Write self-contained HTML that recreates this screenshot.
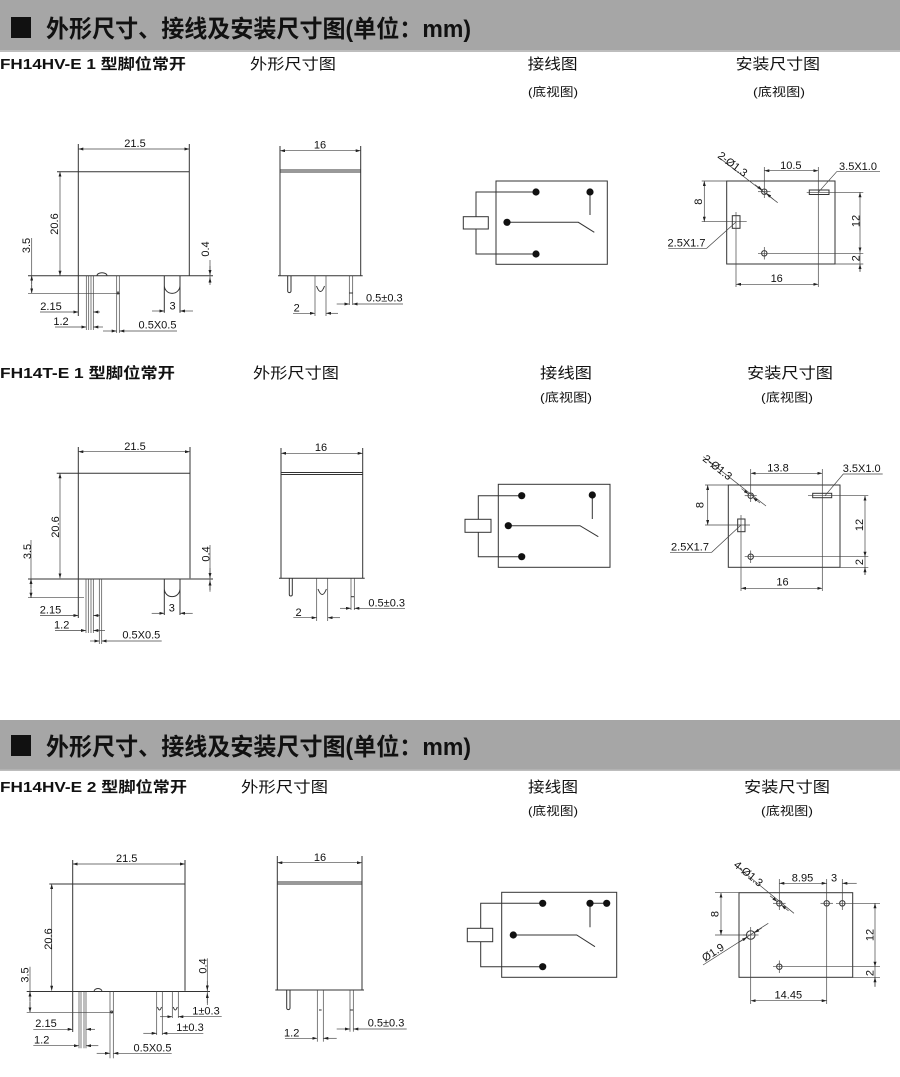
<!DOCTYPE html>
<html><head><meta charset="utf-8">
<style>
html,body{margin:0;padding:0;background:#fff;}
svg{display:block}
.s line,.s path,.s rect,.s polyline,.s circle{stroke:#333;stroke-width:1;fill:none}
.s .d{stroke:#444;stroke-width:.7}
text{font-family:"Liberation Sans",Arial,sans-serif;font-size:11px;fill:#111}
.cj{font-family:"Liberation Sans","Noto Sans CJK SC",sans-serif}
.h{font-size:24px;font-weight:bold}
.lb{font-size:15px;font-weight:bold}
.lc{font-size:15px}
.sm{font-size:12px}
.s .dot{fill:#111;stroke:none}
</style></head><body>
<svg width="900" height="1077" viewBox="0 0 900 1077" xmlns="http://www.w3.org/2000/svg">
<defs><marker id="a" viewBox="0 0 10 6" refX="10" refY="3" markerWidth="5" markerHeight="3" markerUnits="userSpaceOnUse" orient="auto-start-reverse"><path d="M0,0L10,3L0,6z" fill="#222"/></marker></defs>

<!-- ===== Header 1 ===== -->
<rect x="0" y="0" width="900" height="52" fill="#a6a6a6"/>
<rect x="0" y="50" width="900" height="2" fill="#bdbdbd"/>
<rect x="11" y="17" width="20" height="21" fill="#111"/>
<text class="cj h" x="46" y="37" style="font-size:24px" textLength="425" lengthAdjust="spacingAndGlyphs">外形尺寸、接线及安装尺寸图(单位：mm)</text>

<text class="cj lb" x="0" y="69" style="font-size:15px" textLength="186" lengthAdjust="spacingAndGlyphs">FH14HV-E 1 型脚位常开</text>
<text class="cj lc" x="250" y="69" style="font-size:15px" textLength="86" lengthAdjust="spacingAndGlyphs">外形尺寸图</text>
<text class="cj lc" x="527.6" y="69" style="font-size:15px" textLength="50" lengthAdjust="spacingAndGlyphs">接线图</text>
<text class="cj sm" x="528" y="96" style="font-size:12px" textLength="50" lengthAdjust="spacingAndGlyphs">(底视图)</text>
<text class="cj lc" x="735.6" y="69" style="font-size:15px" textLength="84.5" lengthAdjust="spacingAndGlyphs">安装尺寸图</text>
<text class="cj sm" x="753" y="96" style="font-size:12px" textLength="52" lengthAdjust="spacingAndGlyphs">(底视图)</text>

<!-- ===== S1A side view ===== -->
<g class="s">
<line x1="78.3" y1="144" x2="78.3" y2="316"/>
<line x1="189.3" y1="144" x2="189.3" y2="275.7"/>
<line class="d" x1="78.3" y1="149" x2="189.3" y2="149" marker-start="url(#a)" marker-end="url(#a)"/>
<line x1="57" y1="171.7" x2="189.3" y2="171.7"/>
<line class="d" x1="60" y1="171.7" x2="60" y2="275.7" marker-start="url(#a)" marker-end="url(#a)"/>
<line x1="28" y1="275.7" x2="213" y2="275.7"/>
<line class="d" x1="31.7" y1="238" x2="31.7" y2="293.3"/>
<line class="d" x1="31.7" y1="284" x2="31.7" y2="275.7" marker-end="url(#a)"/>
<line class="d" x1="31.7" y1="285" x2="31.7" y2="293.3" marker-end="url(#a)"/>
<line class="d" x1="28" y1="293.3" x2="120" y2="293.3"/>
<line class="d" x1="210" y1="260" x2="210" y2="283"/>
<line class="d" x1="210" y1="266" x2="210" y2="275" marker-end="url(#a)"/>
<line class="d" x1="210" y1="285" x2="210" y2="277.5" marker-end="url(#a)"/>
<line class="d" x1="86.3" y1="275.7" x2="86.3" y2="330"/>
<line class="d" x1="88.7" y1="275.7" x2="88.7" y2="330"/>
<line class="d" x1="91" y1="275.7" x2="91" y2="330"/>
<line class="d" x1="93.3" y1="275.7" x2="93.3" y2="330"/>
<line class="d" x1="116.7" y1="275.7" x2="116.7" y2="333"/>
<line class="d" x1="119.3" y1="275.7" x2="119.3" y2="333"/>
<circle cx="118" cy="293" r="1"/>
<path d="M164.3,275.7V312.7M180,275.7V312.7M164.3,285.5A7.85,7.85 0 0 0 180,285.5"/>
<path d="M97,275.7A5,3 0 0 1 107,275.7"/>
<line class="d" x1="40" y1="312" x2="78.3" y2="312" marker-end="url(#a)"/>
<line class="d" x1="100" y1="312" x2="93.3" y2="312" marker-end="url(#a)"/>
<line class="d" x1="55" y1="327" x2="86.3" y2="327" marker-end="url(#a)"/>
<line class="d" x1="103" y1="327" x2="93.3" y2="327" marker-end="url(#a)"/>
<line class="d" x1="103" y1="331" x2="116.7" y2="331" marker-end="url(#a)"/>
<line class="d" x1="177" y1="331" x2="119.3" y2="331" marker-end="url(#a)"/>
<line class="d" x1="152" y1="311" x2="164.3" y2="311" marker-end="url(#a)"/>
<line class="d" x1="193" y1="311" x2="180" y2="311" marker-end="url(#a)"/>
</g>
<text x="135" y="147" text-anchor="middle">21.5</text>
<text transform="translate(58,224) rotate(-90)" text-anchor="middle">20.6</text>
<text transform="translate(30,245.5) rotate(-90)" text-anchor="middle">3.5</text>
<text transform="translate(209,249) rotate(-90)" text-anchor="middle">0.4</text>
<text x="51" y="310" text-anchor="middle">2.15</text>
<text x="61" y="325" text-anchor="middle">1.2</text>
<text x="157.5" y="328.5" text-anchor="middle">0.5X0.5</text>
<text x="172.5" y="309.5" text-anchor="middle">3</text>

<!-- ===== S1B front view ===== -->
<g class="s">
<line x1="280" y1="146" x2="280" y2="275.7"/>
<line x1="360.7" y1="146" x2="360.7" y2="275.7"/>
<line class="d" x1="280" y1="150.7" x2="360.7" y2="150.7" marker-start="url(#a)" marker-end="url(#a)"/>
<line x1="280" y1="170" x2="360.7" y2="170"/>
<line x1="280" y1="172" x2="360.7" y2="172"/>
<line x1="278" y1="275.7" x2="362.7" y2="275.7"/>
<path d="M287.7,275.7V291A1.65,1.65 0 0 0 291,291V275.7"/>
<line class="d" x1="315" y1="275.7" x2="315" y2="316"/>
<line class="d" x1="326" y1="275.7" x2="326" y2="316"/>
<path d="M316.5,286Q320.5,297 324.5,286"/>
<line class="d" x1="349.3" y1="275.7" x2="349.3" y2="305"/>
<line class="d" x1="352.7" y1="275.7" x2="352.7" y2="305"/>
<line x1="349.3" y1="293" x2="352.7" y2="293"/>
<line class="d" x1="293" y1="313.3" x2="315" y2="313.3" marker-end="url(#a)"/>
<line class="d" x1="338" y1="313.3" x2="326" y2="313.3" marker-end="url(#a)"/>
<line class="d" x1="336.7" y1="304" x2="349.3" y2="304" marker-end="url(#a)"/>
<line class="d" x1="403" y1="304" x2="352.7" y2="304" marker-end="url(#a)"/>
</g>
<text x="320" y="148.5" text-anchor="middle">16</text>
<text x="296.7" y="311.5" text-anchor="middle">2</text>
<text x="384.3" y="301.5" text-anchor="middle">0.5±0.3</text>

<!-- ===== S1C wiring ===== -->
<g class="s">
<rect x="496" y="181" width="111.3" height="83.3"/>
<rect x="463.3" y="216.7" width="25" height="12.3"/>
<path d="M536,192H476V216.7M476,229V254H536"/>
<path d="M507,222.3H578.3L594.3,232.3"/>
<path d="M590,192V215"/>
<circle class="dot" cx="536" cy="192" r="3.6"/>
<circle class="dot" cx="536" cy="254" r="3.6"/>
<circle class="dot" cx="507" cy="222.3" r="3.6"/>
<circle class="dot" cx="590" cy="192" r="3.6"/>
</g>

<!-- ===== S1D mounting ===== -->
<g class="s">
<rect x="726.7" y="181" width="108.3" height="83"/>
<line class="d" x1="701.7" y1="181" x2="726.7" y2="181"/>
<line class="d" x1="704.3" y1="181" x2="704.3" y2="221.7" marker-start="url(#a)" marker-end="url(#a)"/>
<line class="d" x1="701.7" y1="221.7" x2="746.7" y2="221.7"/>
<rect x="732.3" y="215.7" width="7.7" height="12.6"/>
<line class="d" x1="736" y1="212" x2="736" y2="287"/>
<path class="d" d="M736,222L706.7,248.3H668.3"/>
<circle cx="764.3" cy="191.7" r="2.7"/>
<line class="d" x1="758" y1="191.7" x2="770.5" y2="191.7"/>
<line class="d" x1="764.3" y1="167" x2="764.3" y2="198"/>
<line class="d" x1="720" y1="158.3" x2="777.7" y2="202.7"/>
<line class="d" x1="755" y1="184.6" x2="762.2" y2="190" marker-end="url(#a)"/>
<line class="d" x1="773.5" y1="199.5" x2="766.4" y2="193.3" marker-end="url(#a)"/>
<line class="d" x1="764.3" y1="170.7" x2="818.3" y2="170.7" marker-start="url(#a)" marker-end="url(#a)"/>
<line class="d" x1="818.3" y1="167" x2="818.3" y2="287"/>
<rect x="809.3" y="190" width="19.7" height="4.5"/>
<line class="d" x1="806.7" y1="192.3" x2="863.3" y2="192.3"/>
<path class="d" d="M818.3,192.3L836.7,171.7H880"/>
<line class="d" x1="860" y1="192.3" x2="860" y2="252.3" marker-start="url(#a)" marker-end="url(#a)"/>
<line class="d" x1="860" y1="252.3" x2="860" y2="271.7"/>
<line class="d" x1="860" y1="271.7" x2="860" y2="264" marker-end="url(#a)"/>
<circle cx="764.3" cy="253.3" r="2.7"/>
<line class="d" x1="764.3" y1="247" x2="764.3" y2="259.5"/>
<line class="d" x1="758" y1="253.3" x2="863.3" y2="253.3"/>
<line class="d" x1="835" y1="264" x2="863.3" y2="264"/>
<line class="d" x1="736" y1="284.3" x2="818.3" y2="284.3" marker-start="url(#a)" marker-end="url(#a)"/>
</g>
<text transform="translate(702,201.7) rotate(-90)" text-anchor="middle">8</text>
<text x="686.5" y="246.5" text-anchor="middle">2.5X1.7</text>
<text transform="translate(717,157) rotate(37)">2-Ø1.3</text>
<text x="790.8" y="169" text-anchor="middle">10.5</text>
<text x="858" y="170" text-anchor="middle">3.5X1.0</text>
<text transform="translate(859.5,221) rotate(-90)" text-anchor="middle">12</text>
<text transform="translate(859.5,258.3) rotate(-90)" text-anchor="middle">2</text>
<text x="776.7" y="282" text-anchor="middle">16</text>

<!-- ===== Section 2 labels ===== -->
<text class="cj lb" x="0" y="378" style="font-size:15px" textLength="175" lengthAdjust="spacingAndGlyphs">FH14T-E 1 型脚位常开</text>
<text class="cj lc" x="253" y="378" style="font-size:15px" textLength="86" lengthAdjust="spacingAndGlyphs">外形尺寸图</text>
<text class="cj lc" x="540" y="378" style="font-size:15px" textLength="52" lengthAdjust="spacingAndGlyphs">接线图</text>
<text class="cj sm" x="540" y="401.5" style="font-size:12px" textLength="52" lengthAdjust="spacingAndGlyphs">(底视图)</text>
<text class="cj lc" x="747" y="378" style="font-size:15px" textLength="86" lengthAdjust="spacingAndGlyphs">安装尺寸图</text>
<text class="cj sm" x="761" y="401.5" style="font-size:12px" textLength="52" lengthAdjust="spacingAndGlyphs">(底视图)</text>

<!-- ===== S2A side view ===== -->
<g class="s">
<line x1="78.3" y1="447" x2="78.3" y2="618"/>
<line x1="190" y1="447" x2="190" y2="578.3"/>
<line class="d" x1="78.3" y1="451.7" x2="190" y2="451.7" marker-start="url(#a)" marker-end="url(#a)"/>
<line x1="56.7" y1="473.3" x2="190" y2="473.3"/>
<line class="d" x1="60" y1="473.3" x2="60" y2="578.3" marker-start="url(#a)" marker-end="url(#a)"/>
<line x1="28" y1="579" x2="213" y2="579"/>
<line class="d" x1="31" y1="540" x2="31" y2="597.7"/>
<line class="d" x1="31" y1="588" x2="31" y2="579" marker-end="url(#a)"/>
<line class="d" x1="31" y1="589" x2="31" y2="597.7" marker-end="url(#a)"/>
<line class="d" x1="28" y1="597.7" x2="84" y2="597.7"/>
<line class="d" x1="210" y1="545" x2="210" y2="591.7"/>
<line class="d" x1="210" y1="568" x2="210" y2="578" marker-end="url(#a)"/>
<line class="d" x1="210" y1="590" x2="210" y2="580.5" marker-end="url(#a)"/>
<line class="d" x1="86" y1="579" x2="86" y2="633"/>
<line class="d" x1="88.3" y1="579" x2="88.3" y2="633"/>
<line class="d" x1="91" y1="579" x2="91" y2="633"/>
<line class="d" x1="93.3" y1="579" x2="93.3" y2="633"/>
<line class="d" x1="99.3" y1="579" x2="99.3" y2="644"/>
<line class="d" x1="101.7" y1="579" x2="101.7" y2="644"/>
<path d="M164.3,579V615M180,579V615M164.3,588.8A7.85,7.85 0 0 0 180,588.8"/>
<line class="d" x1="40" y1="615.5" x2="78.3" y2="615.5" marker-end="url(#a)"/>
<line class="d" x1="100" y1="615.5" x2="93.3" y2="615.5" marker-end="url(#a)"/>
<line class="d" x1="55" y1="630.5" x2="86" y2="630.5" marker-end="url(#a)"/>
<line class="d" x1="105" y1="630.5" x2="93.3" y2="630.5" marker-end="url(#a)"/>
<line class="d" x1="90" y1="641" x2="99.3" y2="641" marker-end="url(#a)"/>
<line class="d" x1="161.7" y1="641" x2="101.7" y2="641" marker-end="url(#a)"/>
<line class="d" x1="151.7" y1="613.3" x2="164.3" y2="613.3" marker-end="url(#a)"/>
<line class="d" x1="192.7" y1="613.3" x2="180" y2="613.3" marker-end="url(#a)"/>
</g>
<text x="135" y="450" text-anchor="middle">21.5</text>
<text transform="translate(59,527) rotate(-90)" text-anchor="middle">20.6</text>
<text transform="translate(31,551.5) rotate(-90)" text-anchor="middle">3.5</text>
<text transform="translate(209.5,554) rotate(-90)" text-anchor="middle">0.4</text>
<text x="50.5" y="613.5" text-anchor="middle">2.15</text>
<text x="61.7" y="628.5" text-anchor="middle">1.2</text>
<text x="141.3" y="638.5" text-anchor="middle">0.5X0.5</text>
<text x="171.8" y="611.5" text-anchor="middle">3</text>

<!-- ===== S2B front view ===== -->
<g class="s">
<line x1="281" y1="448" x2="281" y2="578.3"/>
<line x1="362.7" y1="448" x2="362.7" y2="578.3"/>
<line class="d" x1="281" y1="453.3" x2="362.7" y2="453.3" marker-start="url(#a)" marker-end="url(#a)"/>
<line x1="281" y1="472.5" x2="362.7" y2="472.5"/>
<line x1="281" y1="474.5" x2="362.7" y2="474.5"/>
<line x1="279" y1="578.3" x2="364.7" y2="578.3"/>
<path d="M289.3,578.3V594.5A1.5,1.5 0 0 0 292.3,594.5V578.3"/>
<line class="d" x1="316.7" y1="578.3" x2="316.7" y2="621"/>
<line class="d" x1="327.7" y1="578.3" x2="327.7" y2="621"/>
<path d="M318,589Q322.2,600 326.4,589"/>
<line class="d" x1="351" y1="578.3" x2="351" y2="610"/>
<line class="d" x1="354.3" y1="578.3" x2="354.3" y2="610"/>
<line x1="351" y1="596.7" x2="354.3" y2="596.7"/>
<line class="d" x1="293.3" y1="617.7" x2="316.7" y2="617.7" marker-end="url(#a)"/>
<line class="d" x1="340" y1="617.7" x2="327.7" y2="617.7" marker-end="url(#a)"/>
<line class="d" x1="340" y1="608.3" x2="351" y2="608.3" marker-end="url(#a)"/>
<line class="d" x1="405" y1="608.3" x2="354.3" y2="608.3" marker-end="url(#a)"/>
</g>
<text x="321" y="451" text-anchor="middle">16</text>
<text x="298.5" y="616" text-anchor="middle">2</text>
<text x="386.7" y="606.5" text-anchor="middle">0.5±0.3</text>

<!-- ===== S2C wiring ===== -->
<g class="s">
<rect x="498.3" y="484.3" width="111.7" height="83"/>
<rect x="465" y="519.3" width="26" height="13"/>
<path d="M521.7,495.7H478.3V519.3M478.3,532.3V556.7H521.7"/>
<path d="M508.3,525.7H580L598.3,536.7"/>
<path d="M592.3,495V519"/>
<circle class="dot" cx="521.7" cy="495.7" r="3.6"/>
<circle class="dot" cx="521.7" cy="556.7" r="3.6"/>
<circle class="dot" cx="508.3" cy="525.7" r="3.6"/>
<circle class="dot" cx="592.3" cy="495" r="3.6"/>
</g>

<!-- ===== S2D mounting ===== -->
<g class="s">
<rect x="728.3" y="485" width="111.7" height="82.3"/>
<line class="d" x1="705" y1="485" x2="728.3" y2="485"/>
<line class="d" x1="707.7" y1="485" x2="707.7" y2="525" marker-start="url(#a)" marker-end="url(#a)"/>
<line class="d" x1="705" y1="525" x2="750" y2="525"/>
<rect x="737.7" y="519" width="7.3" height="12.7"/>
<line class="d" x1="741" y1="515" x2="741" y2="591"/>
<path class="d" d="M741,525L711.7,552.3H670"/>
<circle cx="750.7" cy="495.7" r="2.7"/>
<line class="d" x1="744.7" y1="495.7" x2="756.7" y2="495.7"/>
<line class="d" x1="750.7" y1="469" x2="750.7" y2="502"/>
<line class="d" x1="703.3" y1="456.7" x2="766" y2="506"/>
<line class="d" x1="741.5" y1="488.6" x2="748.6" y2="494" marker-end="url(#a)"/>
<line class="d" x1="760" y1="503" x2="752.8" y2="497.4" marker-end="url(#a)"/>
<line class="d" x1="750.7" y1="473.3" x2="822.3" y2="473.3" marker-start="url(#a)" marker-end="url(#a)"/>
<line class="d" x1="822.3" y1="469" x2="822.3" y2="591"/>
<rect x="812.7" y="493.3" width="19" height="4.4"/>
<line class="d" x1="808" y1="495.7" x2="868.3" y2="495.7"/>
<path class="d" d="M825,495.7L843.3,474H882.7"/>
<line class="d" x1="865" y1="495.7" x2="865" y2="556.7" marker-start="url(#a)" marker-end="url(#a)"/>
<line class="d" x1="865" y1="556.7" x2="865" y2="575"/>
<line class="d" x1="865" y1="575" x2="865" y2="567.3" marker-end="url(#a)"/>
<circle cx="750.7" cy="556.7" r="2.7"/>
<line class="d" x1="750.7" y1="550.5" x2="750.7" y2="563"/>
<line class="d" x1="744.7" y1="556.7" x2="868.3" y2="556.7"/>
<line class="d" x1="840" y1="567.3" x2="868.3" y2="567.3"/>
<line class="d" x1="741" y1="588.3" x2="822.3" y2="588.3" marker-start="url(#a)" marker-end="url(#a)"/>
</g>
<text transform="translate(703.5,505) rotate(-90)" text-anchor="middle">8</text>
<text x="690" y="550.5" text-anchor="middle">2.5X1.7</text>
<text transform="translate(702,460) rotate(38)">2-Ø1.3</text>
<text x="778" y="471.5" text-anchor="middle">13.8</text>
<text x="861.7" y="472" text-anchor="middle">3.5X1.0</text>
<text transform="translate(863,525) rotate(-90)" text-anchor="middle">12</text>
<text transform="translate(863,562) rotate(-90)" text-anchor="middle">2</text>
<text x="782.5" y="585.5" text-anchor="middle">16</text>

<!-- ===== Header 2 ===== -->
<rect x="0" y="720" width="900" height="51" fill="#a6a6a6"/>
<rect x="0" y="769.5" width="900" height="1.5" fill="#bdbdbd"/>
<rect x="11" y="735" width="20" height="21" fill="#111"/>
<text class="cj h" x="46" y="755" style="font-size:24px" textLength="425" lengthAdjust="spacingAndGlyphs">外形尺寸、接线及安装尺寸图(单位：mm)</text>

<text class="cj lb" x="0" y="792" style="font-size:15px" textLength="187" lengthAdjust="spacingAndGlyphs">FH14HV-E 2 型脚位常开</text>
<text class="cj lc" x="241" y="792" style="font-size:15px" textLength="87" lengthAdjust="spacingAndGlyphs">外形尺寸图</text>
<text class="cj lc" x="528" y="792" style="font-size:15px" textLength="50" lengthAdjust="spacingAndGlyphs">接线图</text>
<text class="cj sm" x="528" y="815" style="font-size:12px" textLength="50" lengthAdjust="spacingAndGlyphs">(底视图)</text>
<text class="cj lc" x="744" y="792" style="font-size:15px" textLength="86" lengthAdjust="spacingAndGlyphs">安装尺寸图</text>
<text class="cj sm" x="761" y="815" style="font-size:12px" textLength="52" lengthAdjust="spacingAndGlyphs">(底视图)</text>

<!-- ===== S3A side view ===== -->
<g class="s">
<line x1="72.7" y1="860" x2="72.7" y2="1032"/>
<line x1="185" y1="860" x2="185" y2="990.7"/>
<line class="d" x1="72.7" y1="864" x2="185" y2="864" marker-start="url(#a)" marker-end="url(#a)"/>
<line x1="49.3" y1="884" x2="185" y2="884"/>
<line class="d" x1="51.7" y1="884" x2="51.7" y2="990.7" marker-start="url(#a)" marker-end="url(#a)"/>
<line x1="26.7" y1="991.5" x2="210" y2="991.5"/>
<line class="d" x1="30" y1="966.7" x2="30" y2="1012.3"/>
<line class="d" x1="30" y1="1001" x2="30" y2="991.5" marker-end="url(#a)"/>
<line class="d" x1="30" y1="1002" x2="30" y2="1012.3" marker-end="url(#a)"/>
<line class="d" x1="26.7" y1="1012.3" x2="113.3" y2="1012.3"/>
<line class="d" x1="207.3" y1="958.3" x2="207.3" y2="1005"/>
<line class="d" x1="207.3" y1="981" x2="207.3" y2="990.5" marker-end="url(#a)"/>
<line class="d" x1="207.3" y1="1003" x2="207.3" y2="993" marker-end="url(#a)"/>
<line class="d" x1="79" y1="991.5" x2="79" y2="1048.3"/>
<line class="d" x1="81" y1="991.5" x2="81" y2="1048.3"/>
<line class="d" x1="84" y1="991.5" x2="84" y2="1048.3"/>
<line class="d" x1="86" y1="991.5" x2="86" y2="1048.3"/>
<line class="d" x1="110" y1="991.5" x2="110" y2="1058.3"/>
<line class="d" x1="113.3" y1="991.5" x2="113.3" y2="1058.3"/>
<circle cx="111.7" cy="1012" r="1"/>
<line class="d" x1="156.7" y1="991.5" x2="156.7" y2="1035"/>
<line class="d" x1="162.3" y1="991.5" x2="162.3" y2="1035"/>
<line class="d" x1="172.3" y1="991.5" x2="172.3" y2="1018"/>
<line class="d" x1="178.3" y1="991.5" x2="178.3" y2="1018"/>
<path d="M157.5,1007Q159.5,1013 161.5,1007M173.3,1007Q175.3,1013 177.3,1007"/>
<path d="M94,991.5A4,3 0 0 1 102,991.5"/>
<line class="d" x1="33.3" y1="1029.3" x2="72.7" y2="1029.3" marker-end="url(#a)"/>
<line class="d" x1="95" y1="1029.3" x2="86" y2="1029.3" marker-end="url(#a)"/>
<line class="d" x1="33.3" y1="1045.7" x2="79" y2="1045.7" marker-end="url(#a)"/>
<line class="d" x1="98.3" y1="1045.7" x2="86" y2="1045.7" marker-end="url(#a)"/>
<line class="d" x1="96.7" y1="1053.3" x2="110" y2="1053.3" marker-end="url(#a)"/>
<line class="d" x1="171.7" y1="1053.3" x2="113.3" y2="1053.3" marker-end="url(#a)"/>
<line class="d" x1="160" y1="1016.7" x2="172.3" y2="1016.7" marker-end="url(#a)"/>
<line class="d" x1="221.7" y1="1016.7" x2="178.3" y2="1016.7" marker-end="url(#a)"/>
<line class="d" x1="143.3" y1="1033.3" x2="156.7" y2="1033.3" marker-end="url(#a)"/>
<line class="d" x1="203.3" y1="1033.3" x2="162.3" y2="1033.3" marker-end="url(#a)"/>
</g>
<text x="126.7" y="862" text-anchor="middle">21.5</text>
<text transform="translate(52,939) rotate(-90)" text-anchor="middle">20.6</text>
<text transform="translate(28.5,975) rotate(-90)" text-anchor="middle">3.5</text>
<text transform="translate(206.5,966) rotate(-90)" text-anchor="middle">0.4</text>
<text x="46" y="1027" text-anchor="middle">2.15</text>
<text x="41.7" y="1043.5" text-anchor="middle">1.2</text>
<text x="152.5" y="1051.5" text-anchor="middle">0.5X0.5</text>
<text x="206" y="1014.5" text-anchor="middle">1±0.3</text>
<text x="190" y="1031" text-anchor="middle">1±0.3</text>

<!-- ===== S3B front view ===== -->
<g class="s">
<line x1="277.3" y1="856" x2="277.3" y2="990"/>
<line x1="362" y1="856" x2="362" y2="990"/>
<line class="d" x1="277.3" y1="862.7" x2="362" y2="862.7" marker-start="url(#a)" marker-end="url(#a)"/>
<line x1="277.3" y1="882" x2="362" y2="882"/>
<line x1="277.3" y1="884" x2="362" y2="884"/>
<line x1="275.3" y1="990" x2="364" y2="990"/>
<path d="M286.7,990V1008A1.65,1.65 0 0 0 290,1008V990"/>
<line class="d" x1="317.3" y1="990" x2="317.3" y2="1041.7"/>
<line class="d" x1="323.3" y1="990" x2="323.3" y2="1041.7"/>
<line x1="319" y1="1010" x2="321.6" y2="1010"/>
<line class="d" x1="350" y1="990" x2="350" y2="1031.7"/>
<line class="d" x1="353.3" y1="990" x2="353.3" y2="1031.7"/>
<line x1="350" y1="1010" x2="353.3" y2="1010"/>
<line class="d" x1="285" y1="1038.3" x2="317.3" y2="1038.3" marker-end="url(#a)"/>
<line class="d" x1="336.7" y1="1038.3" x2="323.3" y2="1038.3" marker-end="url(#a)"/>
<line class="d" x1="336.7" y1="1029" x2="350" y2="1029" marker-end="url(#a)"/>
<line class="d" x1="406.7" y1="1029" x2="353.3" y2="1029" marker-end="url(#a)"/>
</g>
<text x="320" y="861" text-anchor="middle">16</text>
<text x="291.7" y="1036.5" text-anchor="middle">1.2</text>
<text x="386" y="1026.5" text-anchor="middle">0.5±0.3</text>

<!-- ===== S3C wiring ===== -->
<g class="s">
<rect x="501.7" y="892.3" width="115" height="85"/>
<rect x="467.3" y="928.3" width="25.4" height="13.4"/>
<path d="M542.7,903.3H480.7V928.3M480.7,941.7V966.7H542.7"/>
<path d="M513.3,935H576.7L595,946.7"/>
<path d="M590,903.3V927.3M590,903.3H606.7"/>
<circle class="dot" cx="542.7" cy="903.3" r="3.6"/>
<circle class="dot" cx="542.7" cy="966.7" r="3.6"/>
<circle class="dot" cx="513.3" cy="935" r="3.6"/>
<circle class="dot" cx="590" cy="903.3" r="3.6"/>
<circle class="dot" cx="606.7" cy="903.3" r="3.6"/>
</g>

<!-- ===== S3D mounting ===== -->
<g class="s">
<rect x="739" y="892.7" width="113.7" height="84.6"/>
<line class="d" x1="715" y1="892.7" x2="739" y2="892.7"/>
<line class="d" x1="721" y1="892.7" x2="721" y2="935" marker-start="url(#a)" marker-end="url(#a)"/>
<line class="d" x1="715" y1="935" x2="746" y2="935"/>
<circle cx="750.7" cy="935" r="4.3"/>
<line class="d" x1="743" y1="935" x2="758.5" y2="935"/>
<line class="d" x1="750.7" y1="927" x2="750.7" y2="1004"/>
<line class="d" x1="703" y1="965" x2="768.3" y2="923.3"/>
<line class="d" x1="739.5" y1="942" x2="747.1" y2="937.3" marker-end="url(#a)"/>
<line class="d" x1="761.8" y1="928" x2="754.3" y2="932.7" marker-end="url(#a)"/>
<circle cx="779.3" cy="903.3" r="2.7"/>
<circle cx="826.7" cy="903.3" r="2.7"/>
<circle cx="842.3" cy="903.3" r="2.7"/>
<circle cx="779.3" cy="966.7" r="2.7"/>
<line class="d" x1="773" y1="903.3" x2="785.6" y2="903.3"/>
<line class="d" x1="820.5" y1="903.3" x2="833" y2="903.3"/>
<line class="d" x1="836" y1="903.3" x2="880" y2="903.3"/>
<line class="d" x1="779.3" y1="960.5" x2="779.3" y2="973"/>
<line class="d" x1="773" y1="966.7" x2="880" y2="966.7"/>
<line class="d" x1="852.7" y1="977.3" x2="880" y2="977.3"/>
<line class="d" x1="735" y1="865" x2="794" y2="913.3"/>
<line class="d" x1="770" y1="895.8" x2="777.2" y2="901.6" marker-end="url(#a)"/>
<line class="d" x1="788.5" y1="910.8" x2="781.4" y2="905" marker-end="url(#a)"/>
<line class="d" x1="779.3" y1="879" x2="779.3" y2="910"/>
<line class="d" x1="826.7" y1="879" x2="826.7" y2="1004"/>
<line class="d" x1="842.3" y1="879" x2="842.3" y2="910"/>
<line class="d" x1="779.3" y1="883.3" x2="826.7" y2="883.3" marker-start="url(#a)" marker-end="url(#a)"/>
<line class="d" x1="856.7" y1="883.3" x2="842.3" y2="883.3" marker-end="url(#a)"/>
<line class="d" x1="875" y1="903.3" x2="875" y2="966.7" marker-start="url(#a)" marker-end="url(#a)"/>
<line class="d" x1="875" y1="966.7" x2="875" y2="986.7"/>
<line class="d" x1="875" y1="986.7" x2="875" y2="977.3" marker-end="url(#a)"/>
<line class="d" x1="750.7" y1="1000.7" x2="826.7" y2="1000.7" marker-start="url(#a)" marker-end="url(#a)"/>
</g>
<text transform="translate(718.5,914) rotate(-90)" text-anchor="middle">8</text>
<text transform="translate(705,962) rotate(-33)">Ø1.9</text>
<text transform="translate(733,866) rotate(39)">4-Ø1.3</text>
<text x="802.5" y="881.5" text-anchor="middle">8.95</text>
<text x="834" y="881.5" text-anchor="middle">3</text>
<text transform="translate(873.5,935) rotate(-90)" text-anchor="middle">12</text>
<text transform="translate(873.5,973) rotate(-90)" text-anchor="middle">2</text>
<text x="788.3" y="998.5" text-anchor="middle">14.45</text>
</svg>
</body></html>
